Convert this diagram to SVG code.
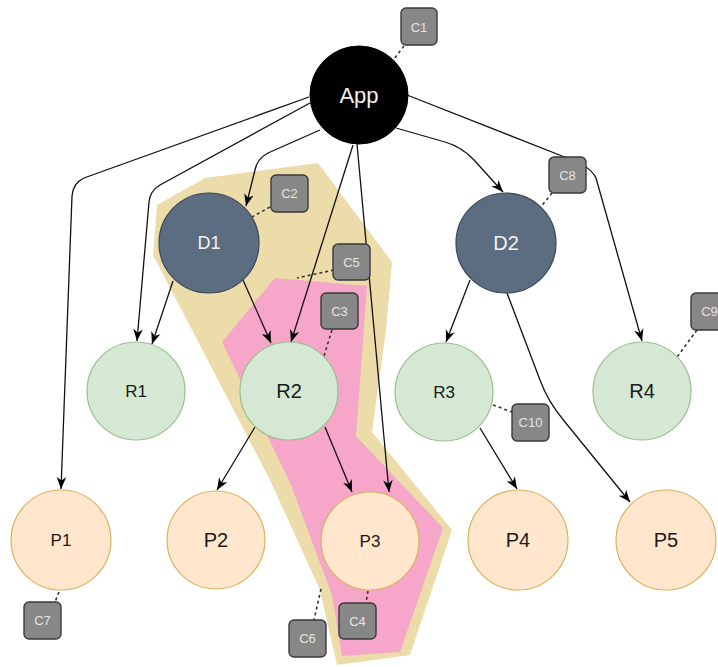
<svg xmlns="http://www.w3.org/2000/svg" width="718" height="667" viewBox="0 0 718 667">
  <style>
    text { font-family: "Liberation Sans", Arial, Helvetica, sans-serif; text-anchor: middle; }
    .edge { fill: none; stroke: #111; stroke-width: 1.3; marker-end: url(#arr); }
    .dash { fill: none; stroke: #333; stroke-width: 1.6; stroke-dasharray: 3 3; }
    .app { fill: #000; stroke: #000; }
    .d { fill: #5c6c81; stroke: #3b4656; stroke-width: 1.2; }
    .r { fill: #d5e8d4; stroke: #9cbf8f; stroke-width: 1.2; }
    .p { fill: #ffe6cc; stroke: #d9b35e; stroke-width: 1.2; }
    .c rect { fill: #878787; stroke: #3a3a3a; stroke-width: 1.4; }
    .c text { fill: #e4e4e4; font-size: 13px; }
    .lt { fill: #f2f2f2; }
    .dk { fill: #1a1a1a; }
  </style>
  <defs>
    <marker id="arr" viewBox="0 0 10 10" refX="10" refY="5" markerWidth="12" markerHeight="12" markerUnits="userSpaceOnUse" orient="auto">
      <path d="M0,1 L10,5 L0,9 L3,5 z" fill="#000"/>
    </marker>
  </defs>

  <g id="regions">
    <polygon id="region-beige" points="157,205 205,178 318,163 392,262 386,330 372,432 452,530 410,655 337,665 320,590 270,480 153,255" fill="#ebdca9"/>
    <polygon id="region-pink" points="275,278 367,286 356,436 443,528 400,652 342,656 332,595 291,485 222,342" fill="#f6a6c8"/>
  </g>

  <g id="connectors">
    <path class="edge" d="M309,97 L84,178 Q73,183 72,196 L61,489"/>
    <path class="edge" d="M310,103 L160,185 Q150,191 149,202 L137,341"/>
    <path class="edge" d="M320,130 L268,153 Q257,159 255,170 L246,206"/>
    <path class="edge" d="M353,145 L291,342"/>
    <path class="edge" d="M357,144 L389,492"/>
    <path class="edge" d="M396,128 L445,142 Q462,147 474,160 L503,192"/>
    <path class="edge" d="M407,95 L562,156 Q590,165 596,178 L642,341"/>
    <path class="edge" d="M173,281 L152,344"/>
    <path class="edge" d="M243,280 L271,343"/>
    <path class="edge" d="M470,280 L446,342"/>
    <path class="edge" d="M507,293 L540,380 Q548,402 565,422 L630,502"/>
    <path class="edge" d="M255,427 L217,490"/>
    <path class="edge" d="M325,427 L352,492"/>
    <path class="edge" d="M480,428 L517,489"/>
    <path class="dash" d="M404,46 L394,59"/>
    <path class="dash" d="M270,207 L252,217"/>
    <path class="dash" d="M334,270 L297,278"/>
    <path class="dash" d="M332,330 L324,356"/>
    <path class="dash" d="M552,193 L540,208"/>
    <path class="dash" d="M697,330 L677,357"/>
    <path class="dash" d="M493,405 L512,412"/>
    <path class="dash" d="M59,592 L55,602"/>
    <path class="dash" d="M368,591 L366,603"/>
    <path class="dash" d="M321,589 L314,620"/>
  </g>

  <g id="App"><circle class="app" cx="359" cy="95" r="49"/><text class="lt" x="359" y="95" dy=".35em" font-size="22">App</text></g>
  <g id="D1"><circle class="d" cx="209" cy="243" r="50"/><text class="lt" x="209" y="243" dy=".35em" font-size="18">D1</text></g>
  <g id="D2"><circle class="d" cx="506" cy="243" r="50"/><text class="lt" x="506" y="243" dy=".35em" font-size="20">D2</text></g>
  <g id="R1"><circle class="r" cx="136" cy="391" r="49"/><text class="dk" x="136" y="391" dy=".35em" font-size="17">R1</text></g>
  <g id="R2"><circle class="r" cx="289" cy="391" r="49"/><text class="dk" x="289" y="391" dy=".35em" font-size="20">R2</text></g>
  <g id="R3"><circle class="r" cx="444" cy="392" r="49"/><text class="dk" x="444" y="392" dy=".35em" font-size="17">R3</text></g>
  <g id="R4"><circle class="r" cx="642" cy="391" r="49"/><text class="dk" x="642" y="391" dy=".35em" font-size="20">R4</text></g>
  <g id="P1"><circle class="p" cx="61" cy="540" r="50"/><text class="dk" x="61" y="540" dy=".35em" font-size="17">P1</text></g>
  <g id="P2"><circle class="p" cx="216" cy="540" r="49"/><text class="dk" x="216" y="540" dy=".35em" font-size="20">P2</text></g>
  <g id="P3"><circle class="p" cx="370" cy="541" r="49"/><text class="dk" x="370" y="541" dy=".35em" font-size="17">P3</text></g>
  <g id="P4"><circle class="p" cx="518" cy="540" r="50"/><text class="dk" x="518" y="540" dy=".35em" font-size="20">P4</text></g>
  <g id="P5"><circle class="p" cx="666" cy="540" r="50"/><text class="dk" x="666" y="540" dy=".35em" font-size="20">P5</text></g>

  <g id="C1" class="c"><rect x="401" y="8" width="36" height="37" rx="5"/><text x="419" y="27" dy=".35em">C1</text></g>
  <g id="C2" class="c"><rect x="271" y="175" width="37" height="37" rx="5"/><text x="289.5" y="193.5" dy=".35em">C2</text></g>
  <g id="C5" class="c"><rect x="333" y="244" width="37" height="36" rx="5"/><text x="351.5" y="262" dy=".35em">C5</text></g>
  <g id="C3" class="c"><rect x="321" y="293" width="37" height="36" rx="5"/><text x="339.5" y="311" dy=".35em">C3</text></g>
  <g id="C8" class="c"><rect x="549" y="157" width="37" height="36" rx="5"/><text x="567.5" y="175" dy=".35em">C8</text></g>
  <g id="C9" class="c"><rect x="691" y="293" width="37" height="37" rx="5"/><text x="709.5" y="311.5" dy=".35em">C9</text></g>
  <g id="C10" class="c"><rect x="512" y="404" width="37" height="37" rx="5"/><text x="530.5" y="422.5" dy=".35em">C10</text></g>
  <g id="C7" class="c"><rect x="24" y="602" width="37" height="37" rx="5"/><text x="42.5" y="620.5" dy=".35em">C7</text></g>
  <g id="C4" class="c"><rect x="339" y="603" width="37" height="36" rx="5"/><text x="357.5" y="621" dy=".35em">C4</text></g>
  <g id="C6" class="c"><rect x="289" y="620" width="37" height="37" rx="5"/><text x="307.5" y="638.5" dy=".35em">C6</text></g>
</svg>
